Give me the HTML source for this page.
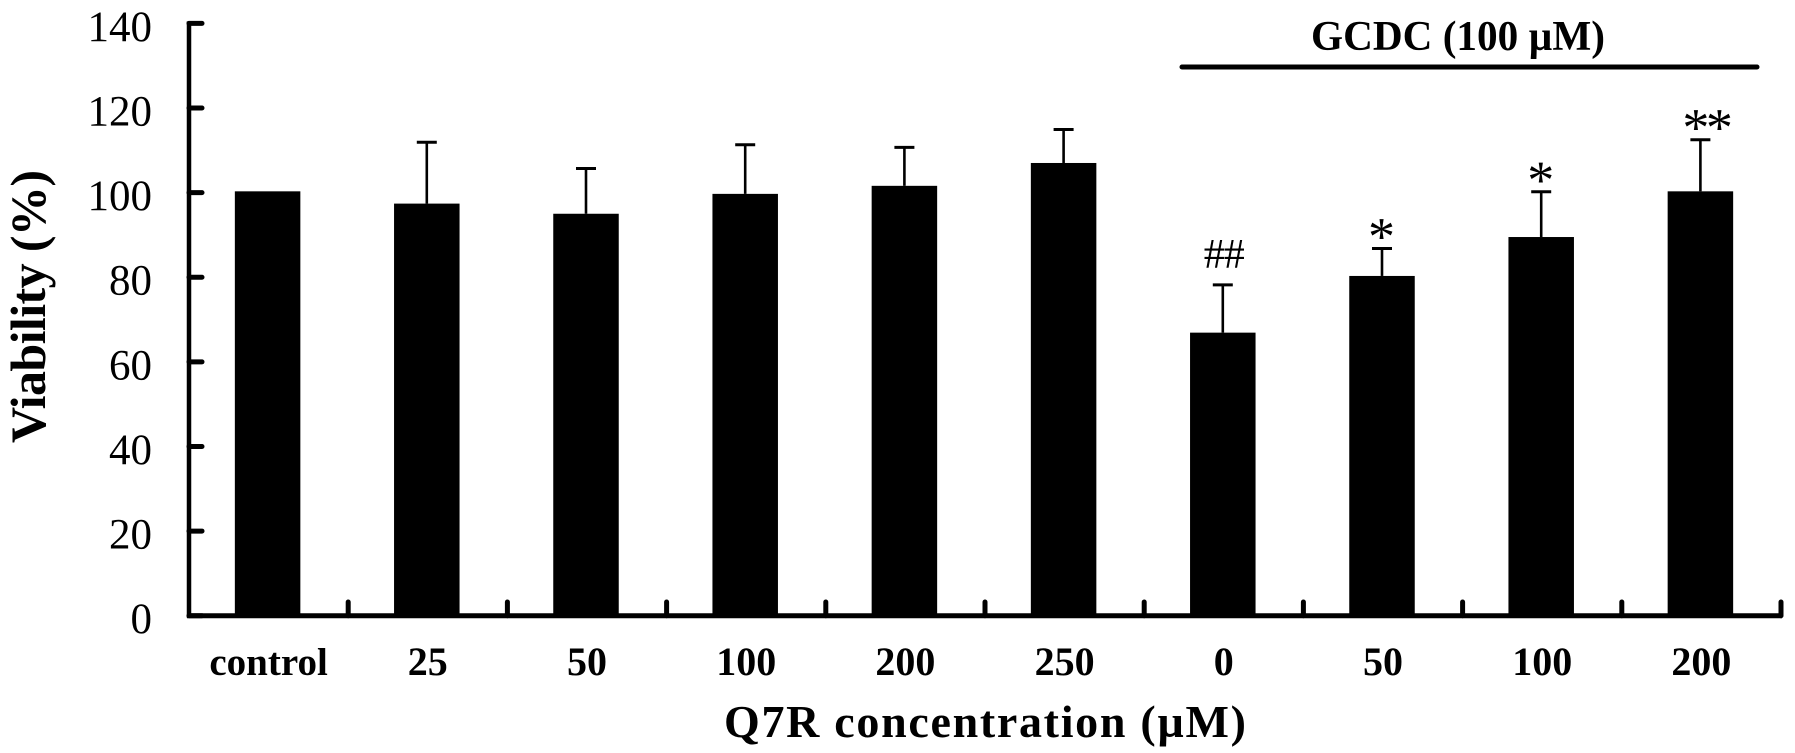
<!DOCTYPE html>
<html lang="en">
<head>
<meta charset="utf-8">
<title>Viability vs Q7R concentration</title>
<style>
  html, body { margin: 0; padding: 0; background: #fff; }
  svg { display: block; font-family: "Liberation Serif", serif; }
</style>
</head>
<body>
<svg id="chart" xmlns="http://www.w3.org/2000/svg" width="1795" height="753" viewBox="0 0 1795 753">
  <rect x="0" y="0" width="1795" height="753" fill="#fff"/>
  <g id="bars"></g>
  <g id="errors"></g>
  <g id="y-axis"></g>
  <g id="x-axis"></g>
  <g id="annotations"></g>
  <text transform="translate(45 443) rotate(-90)" font-size="50" font-weight="bold" textLength="273" lengthAdjust="spacing">Viability (%)</text>
  <text x="724" y="737" font-size="46" font-weight="bold" textLength="522" lengthAdjust="spacing">Q7R concentration (µM)</text>
  <text x="1311" y="50" font-size="42" font-weight="bold" textLength="294" lengthAdjust="spacingAndGlyphs">GCDC (100 µM)</text>
  <line x1="1182" y1="67" x2="1757" y2="67" stroke="#000" stroke-width="5" stroke-linecap="round"/>
</svg>
<script>
const categories = ["control", "25", "50", "100", "200", "250", "0", "50", "100", "200"];
const viability = [100.3, 97.4, 95, 99.7, 101.6, 107, 66.9, 80.3, 89.5, 100.3];
const errorTops = [null, 111.9, 105.7, 111.3, 110.7, 114.9, 78.2, 86.8, 100.2, 112.5];
const markers = ["", "", "", "", "", "", "##", "*", "*", "**"];
const yTicks = [0, 20, 40, 60, 80, 100, 120, 140];

const NS = "http://www.w3.org/2000/svg";
const plotLeft = 189, plotRight = 1781, plotBottom = 615.7, unitPx = 4.231;
const band = (plotRight - plotLeft) / categories.length;
const barWidth = 65.5;

function yScale(v) { return plotBottom - v * unitPx; }
function xScale(i) { return plotLeft + band * (i + 0.5) - 1; }
function xEdge(i) { return plotLeft + band * i; }

function make(tag, attrs, parent) {
  const el = document.createElementNS(NS, tag);
  for (const k in attrs) el.setAttribute(k, attrs[k]);
  parent.appendChild(el);
  return el;
}

const barsG = document.getElementById("bars");
const errG = document.getElementById("errors");
const yG = document.getElementById("y-axis");
const xG = document.getElementById("x-axis");
const annG = document.getElementById("annotations");

viability.forEach(function (v, i) {
  const cx = xScale(i);
  const bar = make("rect", { x: cx - barWidth / 2, y: yScale(v), width: barWidth, height: plotBottom - yScale(v), fill: "#000" }, barsG);
  
  

  if (errorTops[i] !== null) {
    const stem = make("line", { x1: cx, x2: cx, y1: yScale(v), y2: yScale(errorTops[i]), stroke: "#000", "stroke-width": 2.6 }, errG);
    
    
    const cap = make("line", { x1: cx - 10, x2: cx + 10, y1: yScale(errorTops[i]), y2: yScale(errorTops[i]), stroke: "#000", "stroke-width": 3 }, errG);
    
    
  }

  if (markers[i]) {
    const isHash = markers[i].charAt(0) === "#";
    const isDouble = markers[i] === "**";
    const m = make("text", {
      x: cx + (isHash ? 1 : (isDouble ? 5.5 : -0.5)),
      y: yScale(errorTops[i]) + (isHash ? -17 : 6),
      "font-size": isHash ? 42 : 54,
      "letter-spacing": isHash ? -1 : (isDouble ? -3.5 : 0),
      "text-anchor": "middle",
      fill: "#000"
    }, annG);
    m.textContent = markers[i];
    
    
  }

  const lab = make("text", { x: cx + 1, y: 675, "font-size": i === 0 ? 39 : 40, "font-weight": "bold", "text-anchor": "middle", fill: "#000" }, xG);
  lab.textContent = categories[i];
  
  

  const tick = make("line", { x1: xEdge(i + 1), x2: xEdge(i + 1), y1: plotBottom, y2: 602, stroke: "#000", "stroke-width": 5, "stroke-linecap": "round" }, xG);
  
  
});

const xLine = make("line", { x1: plotLeft - 2, x2: plotRight + 1, y1: plotBottom, y2: plotBottom, stroke: "#000", "stroke-width": 5 }, xG);



const yLine = make("line", { x1: plotLeft, x2: plotLeft, y1: yScale(yTicks[yTicks.length - 1]) - 2, y2: plotBottom + 2, stroke: "#000", "stroke-width": 4.5 }, yG);



yTicks.forEach(function (t) {
  const tick = make("line", { x1: plotLeft, x2: 202, y1: yScale(t), y2: yScale(t), stroke: "#000", "stroke-width": 5, "stroke-linecap": "round" }, yG);
  
  
  const lab = make("text", { x: 152, y: yScale(t) + 17.5, "font-size": 43, "text-anchor": "end", fill: "#000" }, yG);
  lab.textContent = String(t);
  
  
});
</script>
</body>
</html>
